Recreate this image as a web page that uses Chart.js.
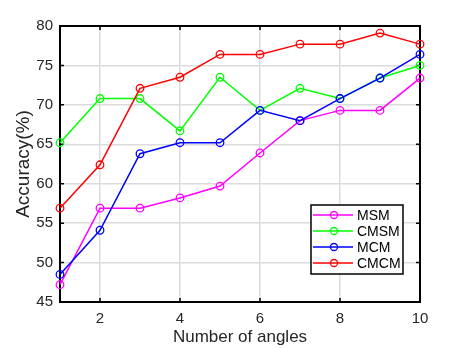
<!DOCTYPE html>
<html>
<head>
<meta charset="utf-8">
<script src="https://cdn.jsdelivr.net/npm/chart.js"></script>
<style>
    html, body { margin: 0; padding: 0; background: #ffffff; }
    .wrap { width: 463px; height: 348px; position: relative; }
</style>
</head>
<body>
<div class="wrap"><canvas id="chart"></canvas></div>
<script>
// values
const angles = [1, 2, 3, 4, 5, 6, 7, 8, 9, 10];
const msm  = [47.2, 56.9, 56.9, 58.2, 59.7, 63.9, 68.0, 69.3, 69.3, 73.4];
const cmsm = [65.2, 70.8, 70.8, 66.7, 73.5, 69.3, 72.1, 70.8, 73.4, 75.0];
const mcm  = [48.5, 54.1, 63.8, 65.2, 65.2, 69.3, 68.0, 70.8, 73.4, 76.4];
const cmcm = [56.9, 62.4, 72.1, 73.5, 76.4, 76.4, 77.7, 77.7, 79.1, 77.7];
const seriesNames = ['MSM', 'CMSM', 'MCM', 'CMCM'];
const seriesColors = ['#ff00ff', '#00ff00', '#0000ff', '#ff0000'];
const xTicks = [2, 4, 6, 8, 10];
const yTicks = [45, 50, 55, 60, 65, 70, 75, 80];

const FONT = 'Liberation Sans, Arial, Helvetica, sans-serif';

function toPoints(vals) {
    return vals.map((v, i) => ({ x: angles[i], y: v }));
}

const allSeries = [msm, cmsm, mcm, cmcm];
const datasets = allSeries.map((vals, i) => ({
    label: seriesNames[i],
    data: toPoints(vals),
    borderColor: seriesColors[i],
    backgroundColor: 'rgba(0,0,0,0)',
    borderWidth: 1.5,
    pointStyle: 'circle',
    pointRadius: 3.8,
    pointBorderWidth: 1.3,
    pointBorderColor: seriesColors[i],
    pointBackgroundColor: 'rgba(0,0,0,0)',
    tension: 0,
    clip: false,
    order: allSeries.length - i   // later series drawn on top
}));

// black box with inward tick marks, matlab style
const boxPlugin = {
    id: 'box',
    beforeDatasetsDraw(chart) {
        const { ctx, chartArea: a, scales: { x, y } } = chart;
        ctx.save();
        ctx.strokeStyle = '#000';
        ctx.lineWidth = 1.5;
        ctx.beginPath();
        xTicks.forEach(v => {
            const px = x.getPixelForValue(v);
            ctx.moveTo(px, a.top); ctx.lineTo(px, a.top + 4);
            ctx.moveTo(px, a.bottom); ctx.lineTo(px, a.bottom - 4);
        });
        yTicks.forEach(v => {
            const py = y.getPixelForValue(v);
            ctx.moveTo(a.left, py); ctx.lineTo(a.left + 4, py);
            ctx.moveTo(a.right, py); ctx.lineTo(a.right - 4, py);
        });
        ctx.stroke();
        ctx.lineWidth = 2;
        ctx.strokeRect(a.left, a.top, a.right - a.left, a.bottom - a.top);
        ctx.restore();
    }
};

// legend box in the lower right, line + circle samples
const legendPlugin = {
    id: 'matlabLegend',
    afterDraw(chart) {
        const { ctx, chartArea: a } = chart;
        const bx = a.right - 109, by = a.bottom - 97, bw = 92, bh = 69;
        ctx.save();
        ctx.fillStyle = '#fff';
        ctx.fillRect(bx, by, bw, bh);
        ctx.strokeStyle = '#000';
        ctx.lineWidth = 1.5;
        ctx.strokeRect(bx, by, bw, bh);
        ctx.font = '14px ' + FONT;
        ctx.textBaseline = 'middle';
        chart.data.datasets.forEach((ds, i) => {
            const cy = by + 10 + i * 16;
            ctx.strokeStyle = ds.borderColor;
            ctx.lineWidth = 1.5;
            ctx.beginPath();
            ctx.moveTo(bx + 2, cy); ctx.lineTo(bx + 42, cy);
            ctx.stroke();
            ctx.lineWidth = 1.3;
            ctx.beginPath();
            ctx.arc(bx + 23, cy, 3.5, 0, Math.PI * 2);
            ctx.stroke();
            ctx.fillStyle = '#000';
            ctx.fillText(ds.label, bx + 46, cy + 1);
        });
        ctx.restore();
    }
};

new Chart(document.getElementById('chart').getContext('2d'), {
    type: 'line',
    data: { datasets },
    options: {
        responsive: true,
        maintainAspectRatio: false,
        animation: false,
        layout: { padding: { top: 26, right: 43, left: 0, bottom: 0 } },
        plugins: {
            legend: { display: false },
            tooltip: { enabled: false }
        },
        scales: {
            x: {
                type: 'linear',
                min: 1,
                max: 10,
                afterBuildTicks: s => { s.ticks = xTicks.map(v => ({ value: v })); },
                afterFit: s => { s.height = 46; },
                grid: { color: '#dcdcdc', lineWidth: 1.5, drawTicks: false },
                border: { display: false },
                ticks: { color: '#262626', padding: 8, maxRotation: 0, font: { family: FONT, size: 15 } },
                title: {
                    display: true,
                    text: 'Number of angles',
                    color: '#262626',
                    padding: { top: 0, bottom: 0 },
                    font: { family: FONT, size: 17 }
                }
            },
            y: {
                min: 45,
                max: 80,
                afterBuildTicks: s => { s.ticks = yTicks.map(v => ({ value: v })); },
                afterFit: s => { s.width = 60; },
                grid: { color: '#dcdcdc', lineWidth: 1.5, drawTicks: false },
                border: { display: false },
                ticks: { color: '#262626', padding: 7, font: { family: FONT, size: 15 } },
                title: {
                    display: true,
                    text: 'Accuracy(%)',
                    color: '#262626',
                    padding: { top: 12, bottom: 0 },
                    font: { family: FONT, size: 19 }
                }
            }
        }
    },
    plugins: [boxPlugin, legendPlugin]
});
</script>
</body>
</html>
